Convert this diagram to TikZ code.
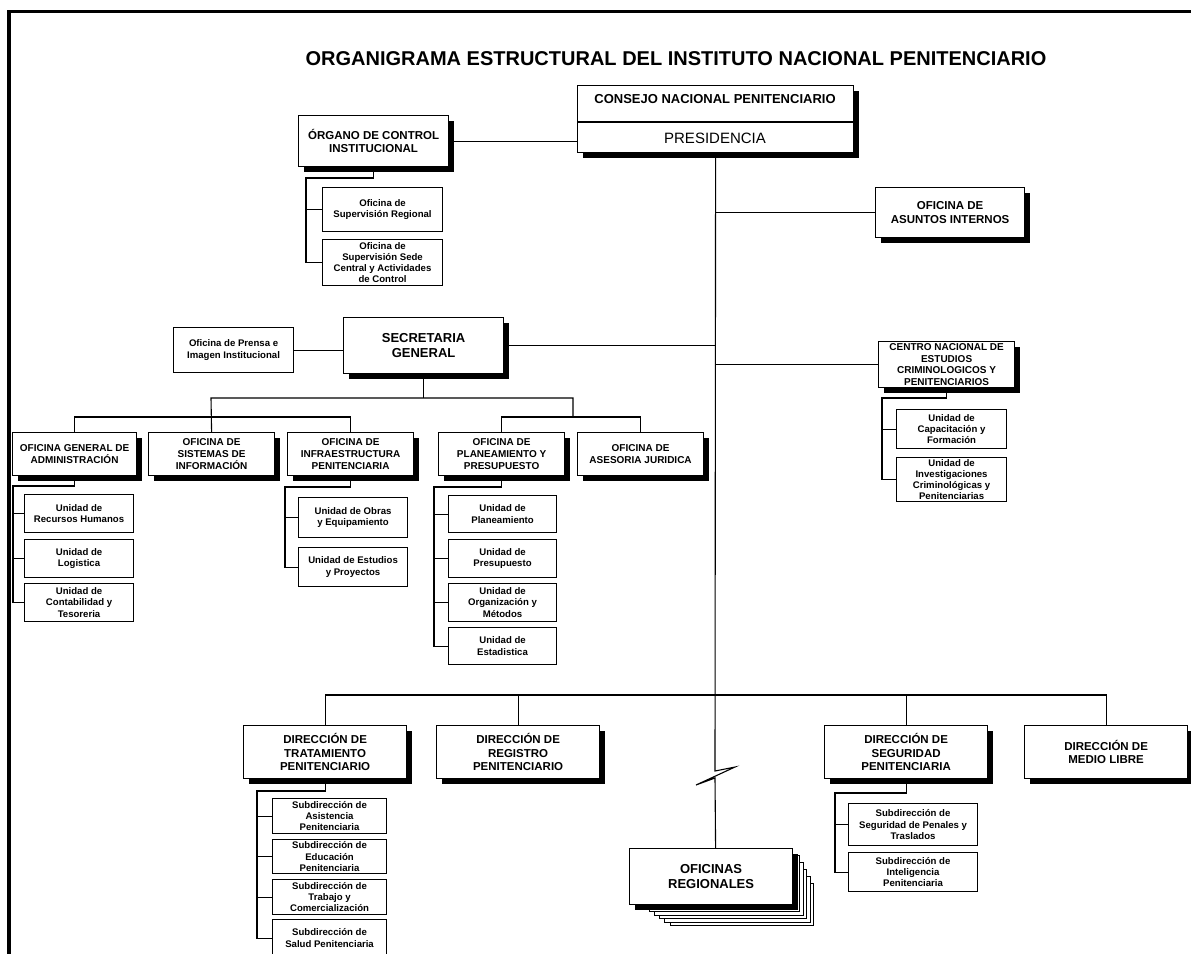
\documentclass[tikz,border=0pt]{standalone}
\usepackage{fontspec}
\setmainfont{Liberation Sans}
\usetikzlibrary{shadows}
\newcommand\orgbox[7]{\node[#6,anchor=north west,minimum width={(#4-#2)*1pt},minimum height={(#5-#3)*1pt}] (#1) at (#2,#3) {#7};}
\begin{document}
\begin{tikzpicture}[x=1pt,y=-1pt,
  hdr/.style={draw,line width=1.2pt,fill=white,align=center,inner sep=0pt,
    general shadow={fill=black,shadow xshift=5pt,shadow yshift=-5pt},
    font=\fontsize{10}{11.7}\selectfont\bfseries},
  hdrL/.style={hdr,font=\fontsize{11.5}{13.4}\selectfont\bfseries},
  dirbox/.style={hdr,font=\fontsize{11.5}{13.3}\selectfont\bfseries},
  bigbox/.style={hdr,font=\fontsize{13}{14.8}\selectfont\bfseries},
  subbox/.style={draw,line width=1.1pt,fill=white,align=center,inner sep=0pt,
    font=\fontsize{9.6}{11.3}\selectfont\bfseries},
  conn/.style={draw,line width=1.1pt},
  stackpage/.style={draw,line width=0.9pt,fill=white}]
\useasboundingbox (0,0) rectangle (1191,953);
\fill[white] (0,0) rectangle (1191,953);
\draw[line width=3.5pt] (9,960) -- (9,11.5) -- (1200,11.5);

\node[font=\fontsize{20}{24}\selectfont\bfseries] (title) at (676,59) {ORGANIGRAMA ESTRUCTURAL DEL INSTITUTO NACIONAL PENITENCIARIO};

% top level
\orgbox{cnp}{577}{85}{853}{152}{hdr}{}
\node[font=\fontsize{13}{15}\selectfont\bfseries] (cnpt) at (715,99) {CONSEJO NACIONAL PENITENCIARIO};
\node[font=\fontsize{15}{18}\selectfont] (pres) at (715,138) {PRESIDENCIA};
\draw[line width=1.1pt] (577,122) -- (853,122);

\orgbox{organo}{298}{115}{448}{166}{hdrL}{ÓRGANO DE CONTROL\\INSTITUCIONAL}
\orgbox{supreg}{322}{187}{442}{231}{subbox}{Oficina de\\Supervisión Regional}
\orgbox{supsede}{322}{239}{442}{285}{subbox}{Oficina de\\Supervisión Sede\\Central y Actividades\\de Control}

\orgbox{asuntos}{875}{187}{1024}{237}{hdrL}{OFICINA DE\\ASUNTOS INTERNOS}

\orgbox{secre}{343}{317}{503}{373}{bigbox}{SECRETARIA\\GENERAL}
\orgbox{prensa}{173}{327}{293}{372}{subbox}{Oficina de Prensa e\\Imagen Institucional}

\orgbox{centro}{878}{341}{1014}{387}{hdr}{CENTRO NACIONAL DE\\ESTUDIOS\\CRIMINOLOGICOS Y\\PENITENCIARIOS}
\orgbox{capac}{896}{409}{1006}{448}{subbox}{Unidad de\\Capacitación y\\Formación}
\orgbox{invest}{896}{457}{1006}{501}{subbox}{Unidad de\\Investigaciones\\Criminológicas y\\Penitenciarias}

% offices
\orgbox{oga}{12}{432}{136}{475}{hdr}{OFICINA GENERAL DE\\ADMINISTRACIÓN}
\orgbox{sist}{148}{432}{274}{475}{hdr}{OFICINA DE\\SISTEMAS DE\\INFORMACIÓN}
\orgbox{infra}{287}{432}{413}{475}{hdr}{OFICINA DE\\INFRAESTRUCTURA\\PENITENCIARIA}
\orgbox{plan}{438}{432}{564}{475}{hdr}{OFICINA DE\\PLANEAMIENTO Y\\PRESUPUESTO}
\orgbox{ases}{577}{432}{703}{475}{hdr}{OFICINA DE\\ASESORIA JURIDICA}

\orgbox{rrhh}{24}{494}{133}{532}{subbox}{Unidad de\\Recursos Humanos}
\orgbox{logi}{24}{539}{133}{577}{subbox}{Unidad de\\Logistica}
\orgbox{conta}{24}{583}{133}{621}{subbox}{Unidad de\\Contabilidad y\\Tesoreria}

\orgbox{obras}{298}{497}{407}{537}{subbox}{Unidad de Obras\\y Equipamiento}
\orgbox{estud}{298}{547}{407}{586}{subbox}{Unidad de Estudios\\y Proyectos}

\orgbox{uplan}{448}{495}{556}{532}{subbox}{Unidad de\\Planeamiento}
\orgbox{upres}{448}{539}{556}{577}{subbox}{Unidad de\\Presupuesto}
\orgbox{uorg}{448}{583}{556}{621}{subbox}{Unidad de\\Organización y\\Métodos}
\orgbox{uest}{448}{627}{556}{664}{subbox}{Unidad de\\Estadistica}

% direcciones
\orgbox{trat}{243}{725}{406}{778}{dirbox}{DIRECCIÓN DE\\TRATAMIENTO\\PENITENCIARIO}
\orgbox{reg}{436}{725}{599}{778}{dirbox}{DIRECCIÓN DE\\REGISTRO\\PENITENCIARIO}
\orgbox{seg}{824}{725}{987}{778}{dirbox}{DIRECCIÓN DE\\SEGURIDAD\\PENITENCIARIA}
\orgbox{libre}{1024}{725}{1187}{778}{dirbox}{DIRECCIÓN DE\\MEDIO LIBRE}

\orgbox{asist}{272}{798}{386}{833}{subbox}{Subdirección de\\Asistencia\\Penitenciaria}
\orgbox{educ}{272}{839}{386}{873}{subbox}{Subdirección de\\Educación\\Penitenciaria}
\orgbox{trab}{272}{879}{386}{914}{subbox}{Subdirección de\\Trabajo y\\Comercialización}
\orgbox{salud}{272}{919}{386}{956}{subbox}{Subdirección de\\Salud Penitenciaria}

\orgbox{segpen}{848}{803}{977}{845}{subbox}{Subdirección de\\Seguridad de Penales y\\Traslados}
\orgbox{intel}{848}{852}{977}{891}{subbox}{Subdirección de\\Inteligencia\\Penitenciaria}

% oficinas regionales with stacked pages
\foreach \i in {5,4,...,1}{
  \draw[stackpage] ({644+5.2*\i},{848+7*\i}) rectangle ({796.5+3.4*\i},{908.5+3.4*\i});
}
\orgbox{ofreg}{629}{848}{792}{904}{bigbox}{OFICINAS\\REGIONALES}

% connectors
\coordinate (brkA) at (715,771);
\coordinate (brkB) at (735,767);
\coordinate (brkC) at (696,785);
\coordinate (brkD) at (715,778);
\draw[conn] (cnp.south) -- (brkA) -- (brkB) -- (brkC) -- (brkD) -- (ofreg.north -| cnp.south);
\draw[conn] (organo.east) -- (organo.east -| cnp.west);
\draw[conn] (asuntos.west) -- (asuntos.west -| cnp.south);
\draw[conn] (secre.east) -- (secre.east -| cnp.south);
\draw[conn] (centro.west) -- (centro.west -| cnp.south);
\draw[conn] (prensa.east) -- (prensa.east -| secre.west);

\coordinate (oc) at (306,178);
\draw[conn] (organo.south) |- (oc) |- (supsede.west);
\draw[conn] (oc |- supreg.west) -- (supreg.west);

\coordinate (cc) at (882,398);
\draw[conn] (centro.south) |- (cc) |- (invest.west);
\draw[conn] (cc |- capac.west) -- (capac.west);

\coordinate (busL) at (211,398);
\coordinate (busR) at (573,398);
\coordinate (lbus) at (0,417);
\draw[conn] (secre.south) -- (secre.south |- busL);
\draw[conn] (sist.north) -- (busL) -- (busR) -- (busR |- lbus);
\draw[conn] (oga.north) |- (lbus -| infra.north) -- (infra.north);
\draw[conn] (plan.north) |- (lbus -| ases.north) -- (ases.north);

\coordinate (ogc) at (13,486);
\draw[conn] (oga.south) |- (ogc) |- (conta.west);
\draw[conn] (ogc |- rrhh.west) -- (rrhh.west);
\draw[conn] (ogc |- logi.west) -- (logi.west);

\coordinate (ifc) at (285,487);
\draw[conn] (infra.south) |- (ifc) |- (estud.west);
\draw[conn] (ifc |- obras.west) -- (obras.west);

\coordinate (plc) at (434,487);
\draw[conn] (plan.south) |- (plc) |- (uest.west);
\draw[conn] (plc |- uplan.west) -- (uplan.west);
\draw[conn] (plc |- upres.west) -- (upres.west);
\draw[conn] (plc |- uorg.west) -- (uorg.west);

\coordinate (dbus) at (0,695);
\draw[conn] (trat.north) |- (dbus -| libre.north) -- (libre.north);
\draw[conn] (reg.north) -- (reg.north |- dbus);
\draw[conn] (seg.north) -- (seg.north |- dbus);

\coordinate (tc) at (257,791);
\draw[conn] (trat.south) |- (tc) |- (salud.west);
\draw[conn] (tc |- asist.west) -- (asist.west);
\draw[conn] (tc |- educ.west) -- (educ.west);
\draw[conn] (tc |- trab.west) -- (trab.west);

\coordinate (sc) at (835,793);
\draw[conn] (seg.south) |- (sc) |- (intel.west);
\draw[conn] (sc |- segpen.west) -- (segpen.west);
\end{tikzpicture}
\end{document}
